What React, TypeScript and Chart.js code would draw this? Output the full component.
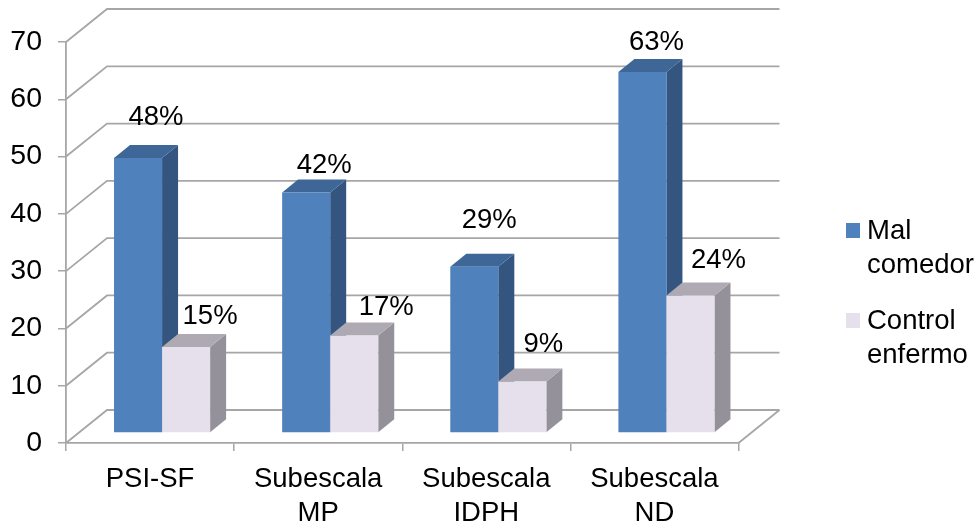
import React, { useEffect, useRef } from "react";
import { Chart, registerables } from "chart.js";

Chart.register(...registerables);

// Chart values
const categories: string[][] = [["PSI-SF"], ["Subescala", "MP"], ["Subescala", "IDPH"], ["Subescala", "ND"]];
const malComedor = [48, 42, 29, 63];
const controlEnfermo = [15, 17, 9, 24];
const seriesNames: string[][] = [["Mal", "comedor"], ["Control", "enfermo"]];

// Colours of the three visible faces of each series: front, side, top
const faces = [
  { front: "#4F81BD", side: "#33557F", top: "#3E6696" },
  { front: "#E6E0EC", side: "#95919A", top: "#AEA9B3" },
];
const gridColor = "#A6A6A6";
const fontFamily = '"Liberation Sans", Arial, sans-serif';
const fontSize = 27.5;

// Oblique projection: wall depth, bar inset from the front plane, bar depth
const wallDepth = { x: 41, y: -33 };
const barInset = { x: 12, y: -10 };
const barDepth = { x: 16, y: -13 };

// Hand-placed label nudges from the bar's top-centre, one list per series
const labelNudge = [
  [[18, -33], [18, -19], [15, -39], [14, -22]],
  [[24, -23], [32, -21], [21, -29], [28, -28]],
];

const poly = (ctx: CanvasRenderingContext2D, pts: number[][], fill: string) => {
  ctx.beginPath();
  pts.forEach(([x, y], i) => (i ? ctx.lineTo(x, y) : ctx.moveTo(x, y)));
  ctx.closePath();
  ctx.fillStyle = fill;
  ctx.fill();
};

// Draws the back wall, the floor and the bars with their depth faces
const obliqueBars = {
  id: "obliqueBars",
  beforeDatasetsDraw(chart: any) {
    const { ctx, chartArea, scales } = chart;
    const { left, right, bottom } = chartArea;

    ctx.save();
    ctx.strokeStyle = gridColor;
    ctx.lineWidth = 1.8;
    scales.y.ticks.forEach((t: any) => {
      const y = scales.y.getPixelForValue(t.value);
      ctx.beginPath();
      ctx.moveTo(left, y);
      ctx.lineTo(left + wallDepth.x, y + wallDepth.y);
      ctx.lineTo(right + wallDepth.x, y + wallDepth.y);
      ctx.stroke();
    });
    ctx.beginPath();
    ctx.moveTo(right, bottom);
    ctx.lineTo(right + wallDepth.x, bottom + wallDepth.y);
    ctx.stroke();
    ctx.restore();

    chart.data.datasets.forEach((_: any, d: number) => {
      const face = faces[d];
      chart.getDatasetMeta(d).data.forEach((bar: any) => {
        const x0 = bar.x - bar.width / 2 + barInset.x;
        const x1 = bar.x + bar.width / 2 + barInset.x;
        const yTop = bar.y + barInset.y;
        const yBase = bar.base + barInset.y;
        poly(ctx, [[x1, yTop], [x1 + barDepth.x, yTop + barDepth.y], [x1 + barDepth.x, yBase + barDepth.y], [x1, yBase]], face.side);
        poly(ctx, [[x0, yTop], [x0 + barDepth.x, yTop + barDepth.y], [x1 + barDepth.x, yTop + barDepth.y], [x1, yTop]], face.top);
        ctx.save();
        ctx.translate(barInset.x, barInset.y);
        bar.draw(ctx);
        ctx.restore();
      });
    });
    return false;
  },
  afterDraw(chart: any) {
    const { ctx } = chart;
    ctx.save();
    ctx.fillStyle = "#000";
    ctx.font = `${fontSize}px ${fontFamily}`;
    ctx.textAlign = "center";
    ctx.textBaseline = "alphabetic";
    chart.data.datasets.forEach((ds: any, d: number) => {
      chart.getDatasetMeta(d).data.forEach((bar: any, i: number) => {
        const [dx, dy] = labelNudge[d][i];
        ctx.fillText(`${ds.data[i]}%`, bar.x + barInset.x + dx, bar.y + barInset.y + dy);
      });
    });

    // Legend with two-line entries
    ctx.textAlign = "left";
    const legendX = 846;
    const legendY = [223, 313];
    seriesNames.forEach((lines, d) => {
      ctx.fillStyle = faces[d].front;
      ctx.fillRect(legendX, legendY[d], 14, 15);
      ctx.fillStyle = "#000";
      lines.forEach((line, l) => ctx.fillText(line, legendX + 21, legendY[d] + 16 + l * 34));
    });
    ctx.restore();
  },
};

export default function App() {
  const ref = useRef<HTMLCanvasElement>(null);

  useEffect(() => {
    const chart = new Chart(ref.current!, {
      type: "bar",
      plugins: [obliqueBars],
      data: {
        labels: categories,
        datasets: [
          { label: seriesNames[0].join(" "), data: malComedor, backgroundColor: faces[0].front },
          { label: seriesNames[1].join(" "), data: controlEnfermo, backgroundColor: faces[1].front },
        ],
      },
      options: {
        responsive: false,
        animation: false,
        events: [],
        layout: { padding: { top: 42, right: 240.5, left: 0, bottom: 0 } },
        plugins: { legend: { display: false }, tooltip: { enabled: false } },
        datasets: { bar: { categoryPercentage: 96 / 168, barPercentage: 1 } },
        scales: {
          x: {
            afterFit: (s: any) => { s.height = 83; },
            border: { color: gridColor, width: 1.8 },
            grid: { offset: true, drawOnChartArea: false, drawTicks: true, tickLength: 8, color: gridColor, lineWidth: 1.5 },
            ticks: {
              padding: 12,
              color: "#000",
              maxRotation: 0,
              autoSkip: false,
              font: { family: fontFamily, size: fontSize, lineHeight: 1.23 },
            },
          },
          y: {
            min: 0,
            max: 70,
            afterFit: (s: any) => { s.width = 66; },
            border: { color: gridColor, width: 1.8 },
            grid: { drawOnChartArea: false, drawTicks: true, tickLength: 8, color: gridColor, lineWidth: 1.5 },
            ticks: {
              stepSize: 10,
              padding: 16,
              color: "#000",
              font: { family: fontFamily, size: 28.5 },
            },
          },
        },
      },
    } as any);
    return () => chart.destroy();
  }, []);

  return (
    <div style={{ position: "absolute", left: 0, top: 0, width: 979, height: 526, background: "#fff" }}>
      <canvas ref={ref} width={979} height={526} style={{ display: "block" }} />
    </div>
  );
}
